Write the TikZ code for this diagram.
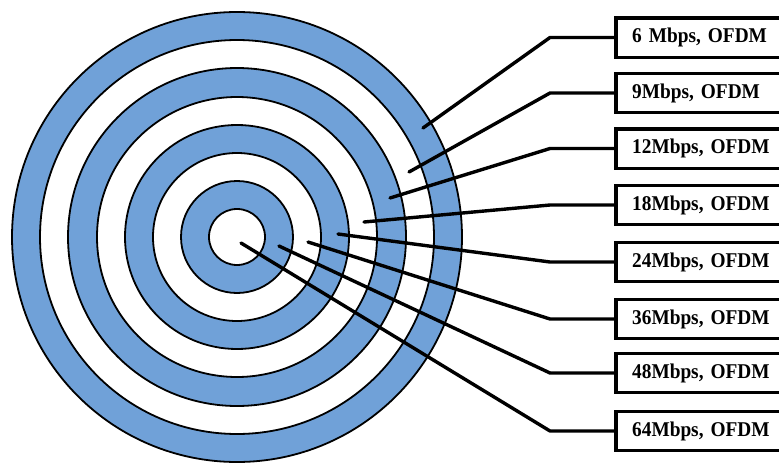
\documentclass[tikz,border=0pt]{standalone}
\usepackage{fontspec}
\setmainfont{Liberation Serif}
\definecolor{ringblue}{RGB}{112,161,216}
\begin{document}
\begin{tikzpicture}[x=1pt,y=-1pt,
  ring/.style={draw=black,line width=1.8pt},
  ratebox/.style={fill=white,anchor=west,
    minimum height=39pt,text width=200pt,inner xsep=16pt,align=left,
    font=\bfseries\fontsize{21}{22}\selectfont\addfontfeature{FakeStretch=0.92}},
  boxline/.style={draw=black,line width=3.4pt,line join=miter},
  conn/.style={draw=black,line width=3.4pt,line cap=round,line join=round}]
\useasboundingbox (0,0) rectangle (779,463);
\fill[white] (0,0) rectangle (779,463);
\coordinate (c) at (237,237);
\foreach \r/\col in {225/ringblue,197/white,169/ringblue,140/white,112/ringblue,84/white,56/ringblue,28/white}{
  \filldraw[ring,fill=\col] (c) circle[radius=\r];
}
\node[ratebox] (b1) at (616,37.5) {6 Mbps, OFDM};
\node[ratebox] (b2) at (616,93) {9Mbps, OFDM};
\node[ratebox] (b3) at (616,148.5) {12Mbps, OFDM};
\node[ratebox] (b4) at (616,205) {18Mbps, OFDM};
\node[ratebox] (b5) at (616,262) {24Mbps, OFDM};
\node[ratebox] (b6) at (616,319) {36Mbps, OFDM};
\node[ratebox] (b7) at (616,373) {48Mbps, OFDM};
\node[ratebox] (b8) at (616,431) {64Mbps, OFDM};
\coordinate (e1) at (423,128);
\coordinate (e2) at (409,172);
\coordinate (e3) at (390,198);
\coordinate (e4) at (364,222);
\coordinate (e5) at (338,234);
\coordinate (e6) at (308,242);
\coordinate (e7) at (279,246);
\coordinate (e8) at (241,243);
\foreach \i in {1,...,8}{
  \draw[boxline] ([xshift=200pt]b\i.north west) -- (b\i.north west) -- (b\i.south west) -- ([xshift=200pt]b\i.south west);
  \draw[conn] (b\i.west) -- ++(-66,0) -- (e\i);
}
\end{tikzpicture}
\end{document}
